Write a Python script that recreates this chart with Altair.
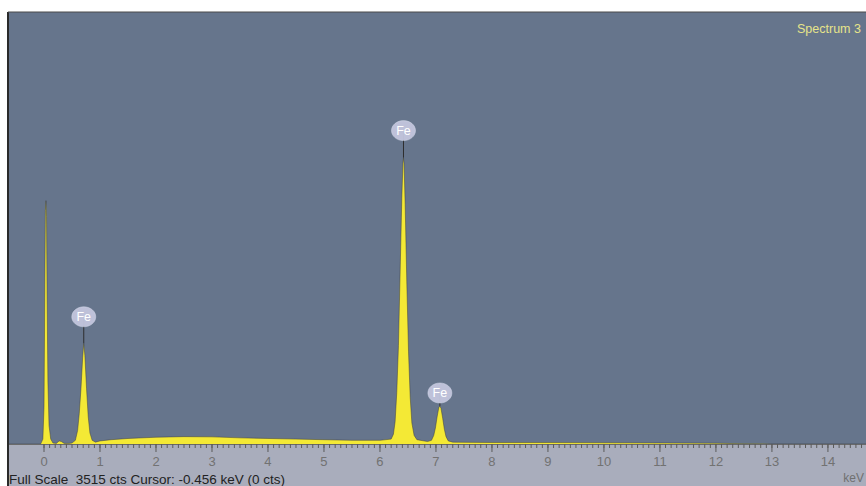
import altair as alt
import pandas as pd

# ---- spectrum (keV, counts) ----
energy_kev = [
    -0.65, -0.06, -0.02, 0.0, 0.015, 0.025, 0.035, 0.045, 0.055, 0.07, 0.09, 0.12, 0.16, 0.22, 0.27, 0.31, 0.36,
    0.45, 0.50, 0.56, 0.60, 0.63, 0.66, 0.69, 0.71, 0.73, 0.76, 0.79, 0.82, 0.86, 0.92,
    1.0, 1.2, 1.5, 2.0, 2.5, 3.0, 3.5, 4.0, 4.5, 5.0, 5.5, 6.0, 6.2,
    6.24, 6.27, 6.30, 6.33, 6.36, 6.39, 6.41, 6.42, 6.43, 6.45, 6.48, 6.51, 6.54, 6.57, 6.61, 6.66,
    6.85, 6.92, 6.96, 6.99, 7.02, 7.05, 7.07, 7.09, 7.12, 7.15, 7.18, 7.22, 7.30,
    7.4, 8.0, 9.0, 10.0, 11.0, 12.0, 12.5, 13.0, 14.7,
]
counts = [
    0, 0, 40, 300, 1300, 1900, 1980, 1850, 1200, 500, 150, 40, 8, 5, 25, 20, 5,
    5, 8, 30, 110, 250, 450, 700, 822, 720, 450, 220, 90, 30, 15,
    25, 35, 45, 55, 60, 58, 50, 45, 40, 35, 30, 30, 40,
    80, 180, 420, 800, 1400, 2000, 2280, 2330, 2280, 1950, 1300, 750, 380, 170, 70, 35,
    20, 30, 70, 130, 220, 295, 310, 290, 210, 120, 60, 25, 15,
    14, 12, 12, 10, 8, 6, 2, 1, 0,
]

# ---- element labels ----
label_text = ["Fe", "Fe", "Fe"]
label_kev = [0.71, 6.42, 7.07]
label_peak = [822, 2330, 310]
label_bubble = [1035, 2550, 415]

# ---- axis ----
full_scale = 3515
x_min, x_max = -0.643, 14.68
major_ticks = list(range(0, 15))
major_labels = [str(v) for v in major_ticks]
minor_ticks = [round(i * 0.1, 1) for i in range(0, 147)]

W, H = 858, 432

spec = pd.DataFrame({"keV": energy_kev, "cts": counts})
labels = pd.DataFrame({"el": label_text, "keV": label_kev, "peak": label_peak, "bubble": label_bubble})
majors = pd.DataFrame({"keV": major_ticks, "lab": major_labels})
minors = pd.DataFrame({"keV": minor_ticks})

xscale = alt.Scale(domain=[x_min, x_max], nice=False, zero=False)
yscale = alt.Scale(domain=[0, full_scale], nice=False)

strip = alt.Chart(pd.DataFrame({"a": [0]})).mark_rect(color="#a9adbc").encode(
    x=alt.value(0), x2=alt.value(W), y=alt.value(H), y2=alt.value(H + 42)
)

area = alt.Chart(spec).mark_area(
    color="#f4e935", opacity=1, interpolate="linear", clip=True,
    line={"color": "#3a3a3a", "strokeWidth": 0.8, "opacity": 0.6},
).encode(
    x=alt.X("keV:Q", scale=xscale, axis=None),
    y=alt.Y("cts:Q", scale=yscale, axis=None),
)

domain_line = alt.Chart(pd.DataFrame({"a": [0]})).mark_rule(color="#6a6a6a", strokeWidth=1).encode(
    x=alt.value(0), x2=alt.value(W), y=alt.value(H + 0.5)
)

minor_rules = alt.Chart(minors).mark_rule(color="#5a5a5a", strokeWidth=1).encode(
    x=alt.X("keV:Q", scale=xscale, axis=None), y=alt.value(H), y2=alt.value(H + 4)
)

major_rules = alt.Chart(majors).mark_rule(color="#5a5a5a", strokeWidth=1).encode(
    x=alt.X("keV:Q", scale=xscale, axis=None), y=alt.value(H), y2=alt.value(H + 8)
)

tick_labels = alt.Chart(majors).mark_text(
    color="#727272", fontSize=13, font="Liberation Sans", baseline="middle", align="center"
).encode(
    x=alt.X("keV:Q", scale=xscale, axis=None), y=alt.value(H + 18), text="lab:N"
)

connectors = alt.Chart(labels).mark_rule(color="#2e2e2e", strokeWidth=1).encode(
    x=alt.X("keV:Q", scale=xscale, axis=None),
    y=alt.Y("peak:Q", scale=yscale, axis=None), y2="bubble:Q"
)

ellipse = "M -1.2 0 A 1.2 1 0 1 0 1.2 0 A 1.2 1 0 1 0 -1.2 0 Z"
bubbles = alt.Chart(labels).mark_point(
    shape=ellipse, filled=True, color="#c3c6de", opacity=0.95, size=400,
    stroke="#dde0f0", strokeWidth=0.5,
).encode(
    x=alt.X("keV:Q", scale=xscale, axis=None), y=alt.Y("bubble:Q", scale=yscale, axis=None)
)

bubble_text = alt.Chart(labels).mark_text(
    color="white", fontSize=12.5, font="Liberation Sans", baseline="middle", align="center"
).encode(
    x=alt.X("keV:Q", scale=xscale, axis=None), y=alt.Y("bubble:Q", scale=yscale, axis=None),
    text="el:N"
)

title_text = alt.Chart(pd.DataFrame({"t": ["Spectrum 3"]})).mark_text(
    color="#e6e48a", fontSize=12.5, font="Liberation Sans", align="left", baseline="middle"
).encode(x=alt.value(789), y=alt.value(17), text="t:N")

status_text = alt.Chart(pd.DataFrame({"t": ["Full Scale\u00a0 3515 cts Cursor: -0.456 keV (0 cts)"]})).mark_text(
    color="#222222", fontSize=13.5, font="Liberation Sans", align="left", baseline="middle"
).encode(x=alt.value(1), y=alt.value(H + 36), text="t:N")

unit_text = alt.Chart(pd.DataFrame({"t": ["keV"]})).mark_text(
    color="#707070", fontSize=12, font="Liberation Sans", align="right", baseline="middle"
).encode(x=alt.value(W - 2), y=alt.value(H + 34), text="t:N")

left_border = alt.Chart(pd.DataFrame({"a": [0]})).mark_rule(color="#2a2a2a", strokeWidth=2).encode(
    x=alt.value(0), y=alt.value(0), y2=alt.value(H + 42)
)
top_border = alt.Chart(pd.DataFrame({"a": [0]})).mark_rule(color="#4a4a4a", strokeWidth=1).encode(
    x=alt.value(0), x2=alt.value(W), y=alt.value(0)
)

chart = alt.layer(
    strip, area, domain_line, minor_rules, major_rules, tick_labels,
    connectors, bubbles, bubble_text,
    title_text, status_text, unit_text, left_border, top_border,
).properties(
    width=W, height=H,
    padding={"left": 8, "top": 12, "right": 0, "bottom": 42},
    autosize=alt.AutoSizeParams(type="none"),
    background="white",
).configure_view(fill="#66758c", stroke=None)

chart.save("out.html", embed_options={"renderer": "svg", "actions": False})
